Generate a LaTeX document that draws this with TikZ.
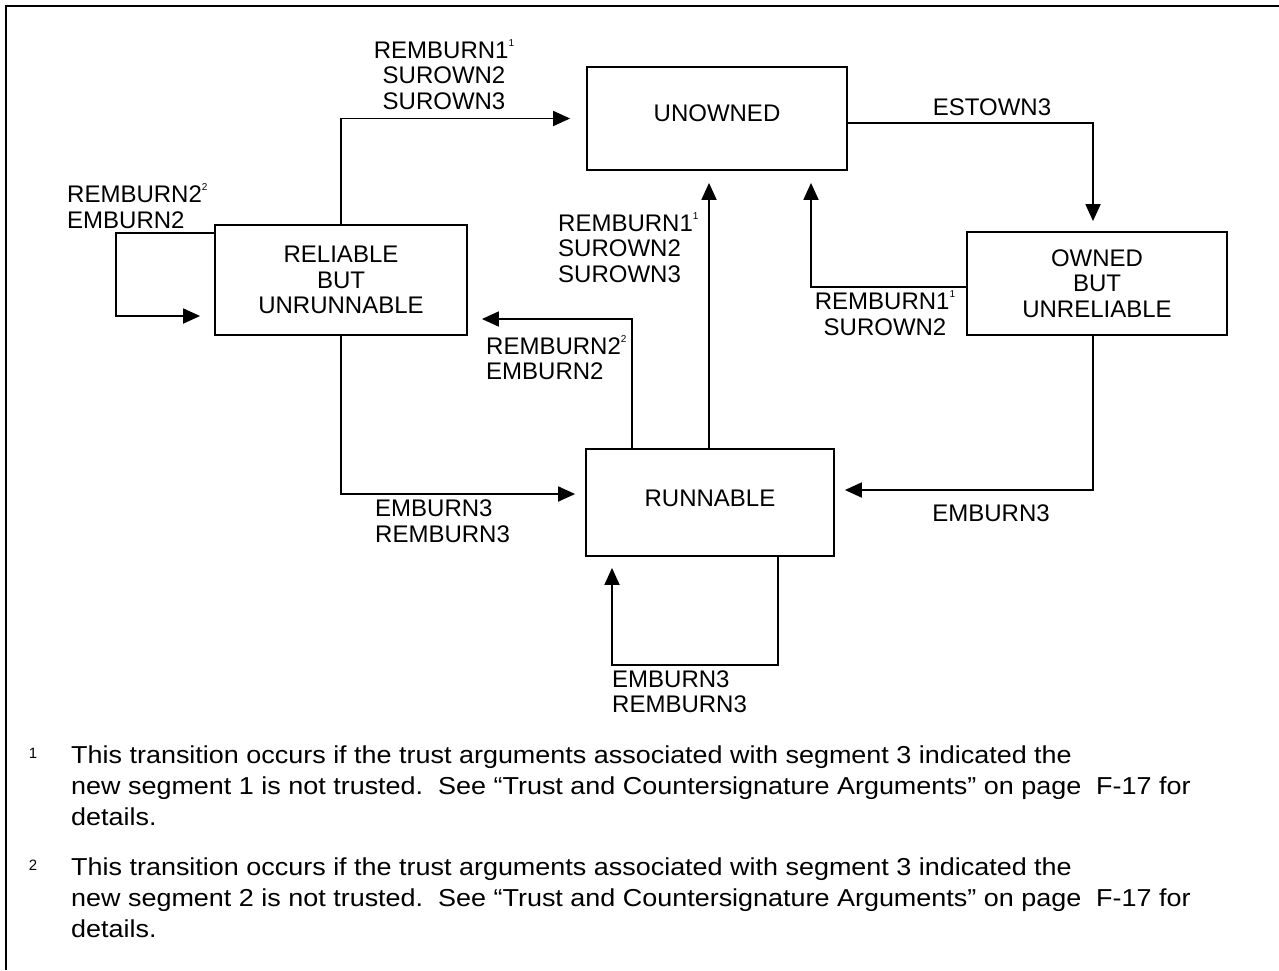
\documentclass[tikz,border=0pt]{standalone}
\usepackage{fontspec}
\setmainfont{Liberation Sans}
\newfontfamily\fnfont[FakeStretch=1.1]{Liberation Sans}
\usetikzlibrary{arrows.meta}
\newcommand\supn[1]{\smash{\raisebox{0.5em}{\fontsize{10}{10}\selectfont #1}}}
\begin{document}
\begin{tikzpicture}[x=1pt,y=-1pt,
  font=\fontsize{24}{25.5}\selectfont,
  box/.style={draw, line width=1.8pt, rectangle, inner sep=0pt, align=center},
  arr/.style={-{Triangle[length=17pt,width=15pt]}, line width=1.8pt},
  lbl/.style={inner sep=0pt, align=left, anchor=west},
  lblc/.style={inner sep=0pt, align=center},
  fnote/.style={inner sep=0pt, align=left, anchor=north west, font=\fnfont\fontsize{24.5}{31}\selectfont},
  fnum/.style={inner sep=0pt, font=\fontsize{15}{15}\selectfont}
]
\useasboundingbox (0,0) rectangle (1279,970);
% frame
\draw[line width=1.8pt] (6,970) -- (6,6) -- (1279,6);

% states
\node[box, minimum width=260pt, minimum height=103pt] (unowned) at (717,118.5) {};
\node[inner sep=0pt] (unownedT) at (717,113) {UNOWNED};
\node[box, minimum width=252pt, minimum height=110pt] (reliable) at (341,280) {RELIABLE\\BUT\\UNRUNNABLE};
\node[box, minimum width=260pt, minimum height=103pt] (owned) at (1097,283.5) {OWNED\\BUT\\UNRELIABLE};
\node[box, minimum width=248pt, minimum height=107pt] (runnable) at (710,502.5) {};
\node[inner sep=0pt] (runnableT) at (710,498) {RUNNABLE};

% helper coordinates
\coordinate (l1) at (116,233);
\coordinate (l2) at (116,316);
\coordinate (r1) at (778,665);
\coordinate (r2) at (612,665);

% connectors
\draw[arr, shorten >=16pt] (reliable.north) |- (unowned.west);
\draw[arr, shorten >=10pt] ([yshift=-4.5pt]unowned.east) -| ([xshift=-4pt]owned.north);
\draw[arr, shorten >=12pt] ([yshift=-3.5pt]owned.west) -| ([xshift=94pt]unowned.south);
\draw[arr, shorten >=12pt] ([xshift=-1pt]runnable.north) -- ([xshift=-1pt]runnable.north |- unowned.south);
\draw[arr, shorten >=14pt] ([xshift=-78pt]runnable.north) |- ([yshift=-39pt]reliable.east);
\draw[arr, shorten >=10pt] (reliable.south) |- ([yshift=8.5pt]runnable.west);
\draw[arr, shorten >=10pt] ([xshift=-4pt]owned.south) |- ([yshift=12.5pt]runnable.east);
\draw[arr, shorten >=11pt] (runnable.south -| r1) -- (r1) -- (r2) -- (r2 |- runnable.south);
\draw[arr, shorten >=14pt] (reliable.west |- l1) -- (l1) -- (l2) -- (reliable.west |- l2);

% labels
\node[lblc] (t1) at (444,75.5) {REMBURN1\supn{1}\\SUROWN2\\SUROWN3};
\node[lbl] (t2) at (67,207) {REMBURN2\supn{2}\\EMBURN2};
\node[lbl] (t3) at (558,248.5) {REMBURN1\supn{1}\\SUROWN2\\SUROWN3};
\node[lblc] (t4) at (885,314.5) {REMBURN1\supn{1}\\SUROWN2};
\node[lbl] (t5) at (486,358.5) {REMBURN2\supn{2}\\EMBURN2};
\node[lbl] (t6) at (375,521) {EMBURN3\\REMBURN3};
\node[lblc] (t7) at (992,107) {ESTOWN3};
\node[lblc] (t8) at (991,513) {EMBURN3};
\node[lbl] (t9) at (612,691.5) {EMBURN3\\REMBURN3};

% footnotes
\node[fnum] (n1) at (33,753) {1};
\node[fnote] (f1) at (71,746) {This transition occurs if the trust arguments associated with segment 3 indicated the\\new segment 1 is not trusted.\ \ See “Trust and Countersignature Arguments” on page\ \ F-17 for\\details.};
\node[fnum] (n2) at (33,865) {2};
\node[fnote] (f2) at (71,858) {This transition occurs if the trust arguments associated with segment 3 indicated the\\new segment 2 is not trusted.\ \ See “Trust and Countersignature Arguments” on page\ \ F-17 for\\details.};
\end{tikzpicture}
\end{document}
